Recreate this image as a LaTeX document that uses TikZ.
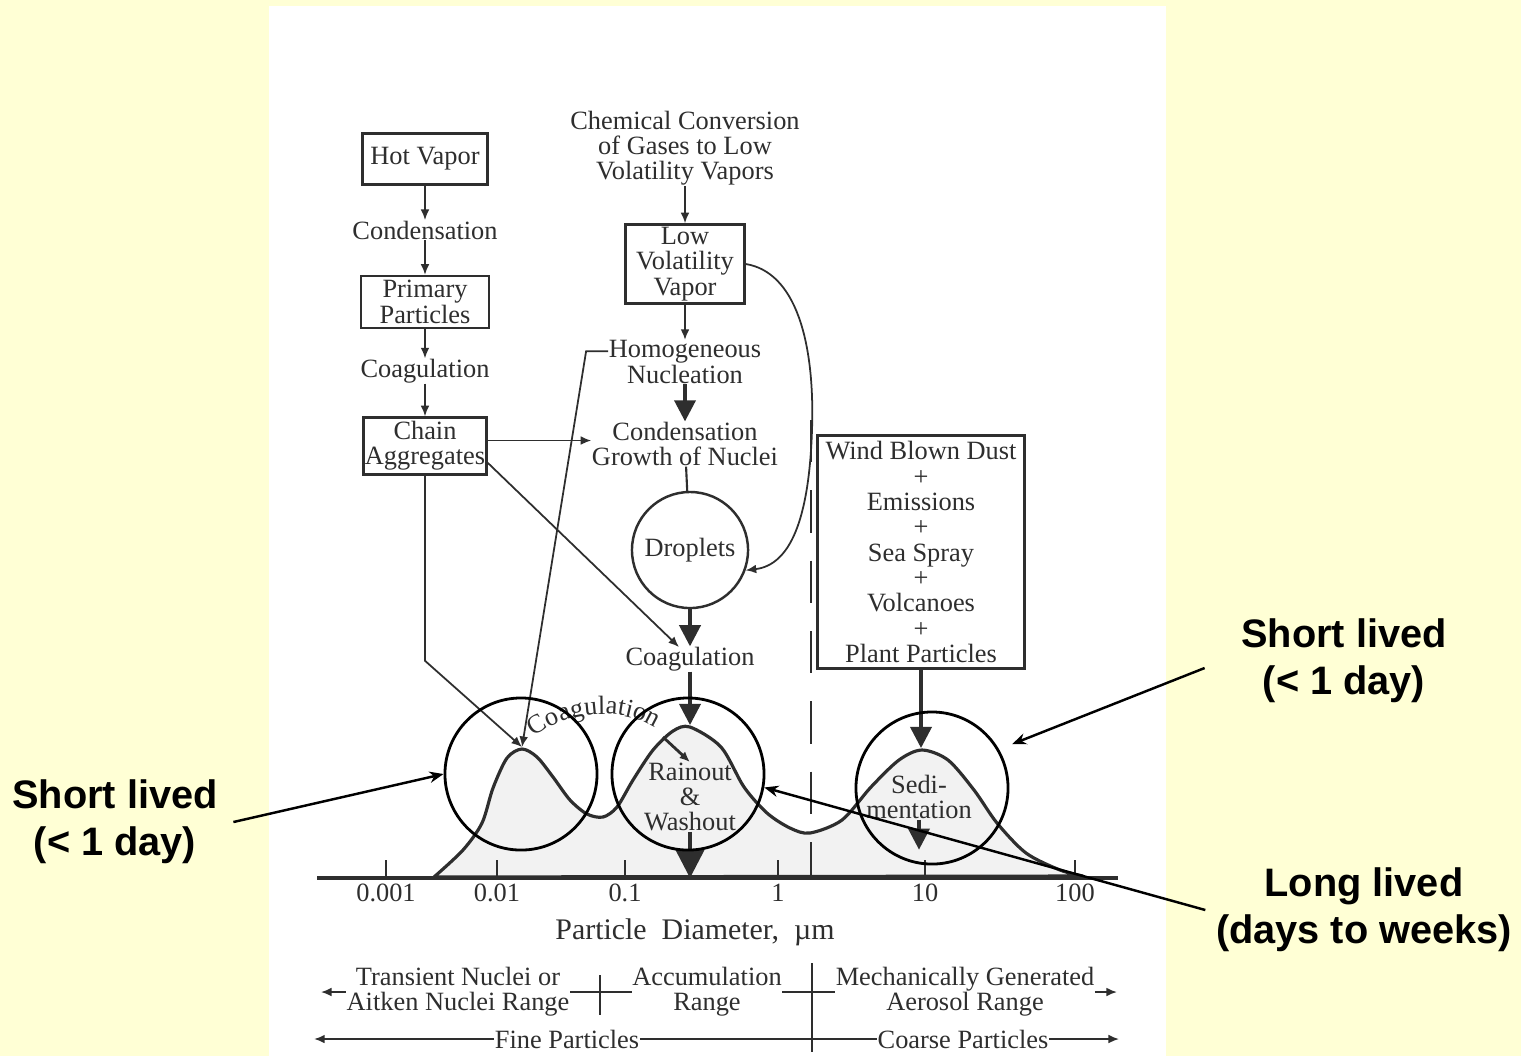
\documentclass[tikz,border=0pt]{standalone}
\usepackage{fontspec}
\setmainfont{Liberation Serif}
\setsansfont{Liberation Sans}
\usetikzlibrary{arrows.meta,decorations.text}
\definecolor{slidebg}{RGB}{255,255,213}
\colorlet{ink}{black!82}
\newcommand{\scanfont}{\fontsize{7.5}{7.2}\selectfont}
\tikzset{
  lbl/.style={inner sep=0pt,align=center,text=ink,font=\scanfont},
  box/.style={lbl,draw=ink,line width=0.7pt},
  tarr/.style={draw=ink,line width=0.5pt,-{Latex[length=3pt,width=2.5pt]}},
  barr/.style={draw=ink,line width=1pt,-{Triangle[length=6pt,width=6pt]}},
  note/.style={inner sep=0pt,align=center,font=\sffamily\bfseries\fontsize{11.3}{13.4}\selectfont},
  callarr/.style={line width=0.7pt,-{Stealth[length=4pt,width=3.2pt]}},
  ring/.style={draw,line width=0.8pt,circle,minimum size=1.52cm,inner sep=0pt},
}
\begin{document}
\begin{tikzpicture}[x=0.01cm,y=-0.01cm]
\fill[slidebg] (0,0) rectangle (1521,1056);
\fill[white] (269,6) rectangle (1166,1056);

\draw[ink,line width=0.9pt,fill=black!5] plot[smooth,tension=0.5] coordinates {(434,877) (463,850) (482,823) (493,788) (507,758) (522,749) (537,757) (553,777) (570,800) (587,814) (603,817) (617,807) (633,780) (653,750) (673,731) (690,727) (721,747) (744,787) (767,813) (790,828) (810,833) (842,820) (871,787) (899,760) (922,750) (948,760) (974,790) (997,823) (1026,853) (1060,870) (1083,876)} -- cycle;
\coordinate (peakone) at (522,747);
\coordinate (peaktwo) at (690,725);
\coordinate (peakthree) at (921,748);
\coordinate (axisend) at (1118,878);
\coordinate (coagin) at (679,647);
\coordinate (rainA) at (663,737);
\draw[ink,line width=1pt] (317,878) -- (axisend);
\draw[ink,line width=0.6pt,dash pattern=on 12pt off 8pt] (811,420) -- (811,878);
\foreach \x/\t in {386/0.001,497/0.01,625/0.1,778/1,925/10,1075/100} {
  \draw[ink,line width=0.6pt] (\x,878) -- (\x,860);
  \node[lbl] (tick\x) at (\x,893) {\t};
}
\path[decorate,decoration={text along path,text align=center,text={|\scanfont\color{ink}|Coagulation}}] (peakone) .. controls (560,708) and (630,702) .. (668,738);

\node[box,minimum width=1.25cm,minimum height=0.51cm] (hot) at (425,159) {Hot Vapor};
\node[lbl] (cond1) at (425,230) {Condensation};
\node[box,minimum width=1.28cm,minimum height=0.52cm] (prim) at (425,302) {Primary\\Particles};
\node[lbl] (coag1) at (425,371) {Coagulation};
\node[box,minimum width=1.23cm,minimum height=0.57cm] (chain) at (425,446) {Chain\\Aggregates};
\node[lbl] (chem) at (685,148) {Chemical Conversion\\of Gases to Low\\Volatility Vapors};
\node[box,minimum width=1.19cm,minimum height=0.79cm] (lowvol) at (685,264) {Low\\Volatility\\Vapor};
\node[lbl] (homo) at (685,362) {Homogeneous\\Nucleation};
\node[lbl] (growth) at (685,444) {Condensation\\Growth of Nuclei};
\node[box,circle,minimum size=1.16cm] (drop) at (690,550) {Droplets};
\node[lbl] (coag2) at (690,659) {Coagulation};
\node[box,minimum width=2.07cm,minimum height=2.33cm] (dust) at (921,552) {Wind Blown Dust\\+\\Emissions\\+\\Sea Spray\\+\\Volcanoes\\+\\Plant Particles};
\node[lbl] (rain) at (690,797) {Rainout\\\&\\Washout};
\node[lbl] (sed) at (919,797) {Sedi-\\mentation};

\draw[tarr] (hot) -- (cond1);
\draw[tarr] (cond1) -- (prim);
\draw[tarr] (prim) -- (coag1);
\draw[tarr] (coag1) -- (chain);
\draw[tarr] (chem) -- (lowvol);
\draw[tarr] (lowvol) -- (homo);
\draw[ink,line width=0.6pt] (growth) -- (drop);
\draw[barr] (homo) -- (growth);
\draw[barr] (drop) -- (coag2);
\draw[barr] (coag2.south) -- (coag2.south |- peaktwo);
\draw[barr] (dust.south) -- (dust.south |- peakthree);
\draw[barr,-{Triangle[length=8pt,width=8pt]}] (rain.south) -- (rain.south |- axisend);
\draw[barr] (sed.south) -- ++(0,30);
\draw[tarr] (chain.5) -- (chain.5 -| growth.west);
\draw[tarr] (chain.-15) -- (coagin);
\draw[tarr] (chain.south) -- ++(0,185) -- (peakone);
\draw[tarr] (homo.172) -- ++(-22,0) -- (peakone);
\draw[tarr] (lowvol.east) .. controls (795,272) and (815,340) .. (812,430) .. controls (809,520) and (790,565) .. (drop.-20);
\draw[tarr,line width=0.8pt] (rainA) -- (rain.north);

\node[lbl,font=\fontsize{8.5}{9}\selectfont] (xlabel) at (695,932) {Particle\ \ Diameter,\ \ µm};
\node[lbl] (trans) at (458,992) {Transient Nuclei or\\Aitken Nuclei Range};
\node[lbl] (accum) at (707,992) {Accumulation\\Range};
\node[lbl] (mech) at (965,992) {Mechanically Generated\\Aerosol Range};
\node[lbl] (fine) at (567,1039) {Fine Particles};
\node[lbl] (coarse) at (963,1039) {Coarse Particles};
\draw[tarr] (trans.west) -- ++(-25,0);
\draw[ink,line width=0.5pt] (trans.east) -- (accum.west);
\draw[ink,line width=0.5pt] (accum.east) -- (mech.west);
\draw[tarr] (mech.east) -- ++(22,0);
\draw[tarr] (fine.west) -- ++(-180,0);
\draw[ink,line width=0.5pt] (fine.east) -- (coarse.west);
\draw[tarr] (coarse.east) -- ++(70,0);
\draw[ink,line width=0.5pt] (600,975) -- (600,1015);
\draw[ink,line width=0.5pt] (812,963) -- (812,1052);

\node[ring] (ringA) at (521,774) {};
\node[ring] (ringB) at (688,774) {};
\node[ring] (ringC) at (932,788) {};
\node[note] (shortL) at (115,822) {Short lived\\(< 1 day)};
\node[note] (shortR) at (1344,661) {Short lived\\(< 1 day)};
\node[note] (longR) at (1364,910) {Long lived\\(days to weeks)};
\draw[callarr] ([xshift=0.15cm]shortL.east) -- (ringA.west);
\draw[callarr,shorten >=4pt] ([xshift=-0.36cm,yshift=-0.07cm]shortR.west) -- (ringC.30);
\draw[callarr] ([xshift=-0.1cm]longR.west) -- (ringB.-10);
\end{tikzpicture}
\end{document}
